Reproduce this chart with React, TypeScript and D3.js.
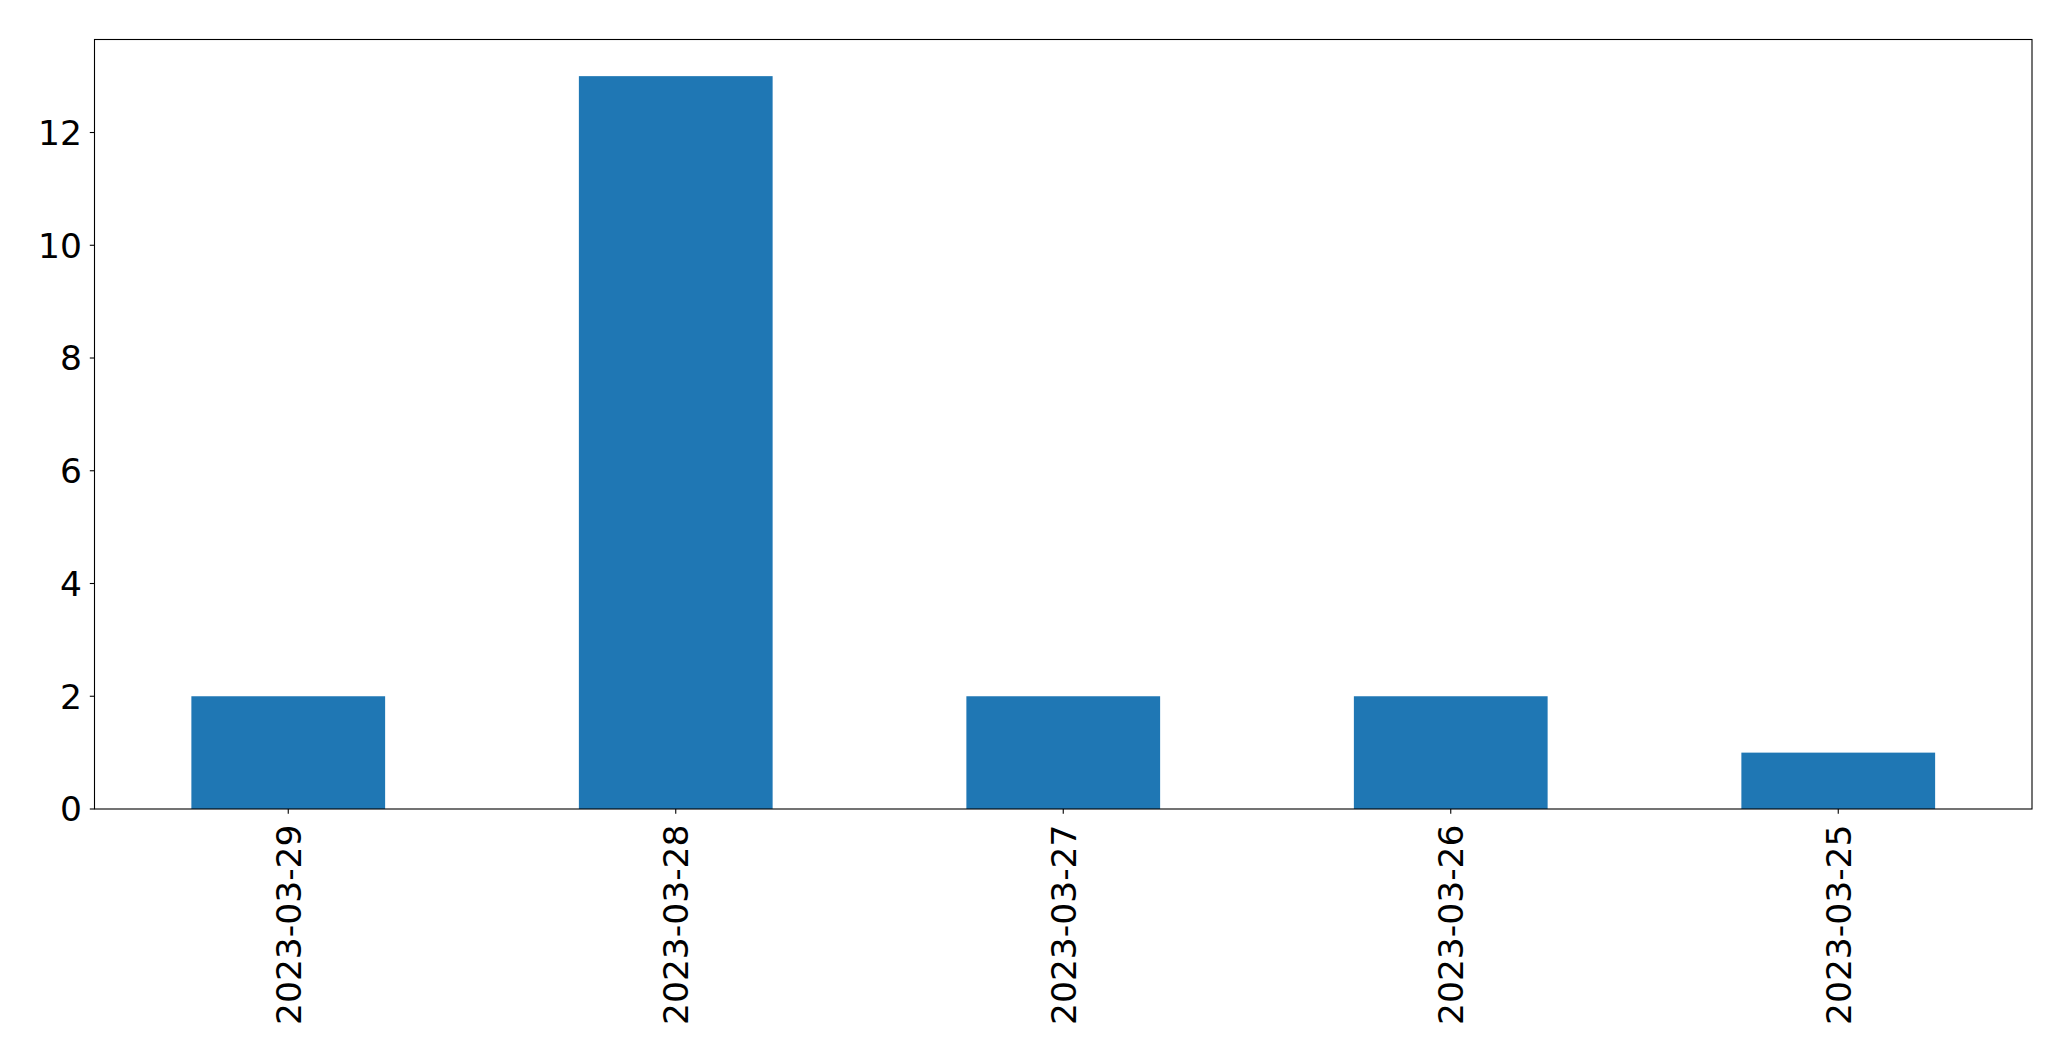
import React from "react";
import * as d3 from "d3";

const categories = ["2023-03-29", "2023-03-28", "2023-03-27", "2023-03-26", "2023-03-25"];
const values = [2, 13, 2, 2, 1];
const yTicks = [0, 2, 4, 6, 8, 10, 12];

const W = 2071;
const H = 1061;
const M = { left: 94.5, right: 2032, top: 39.5, bottom: 809 };
const FONT = "DejaVu Sans, sans-serif";
const FS = 34.5;

export default function App() {
  const x = d3
    .scaleBand<string>()
    .domain(categories)
    .range([M.left, M.right])
    .paddingInner(0.5)
    .paddingOuter(0.25);
  const yMax = d3.max(values)! * 1.05;
  const y = d3.scaleLinear().domain([0, yMax]).range([M.bottom, M.top]);

  return (
    <svg
      width={W}
      height={H}
      style={{ position: "absolute", left: 0, top: 0, background: "#fff" }}
    >
      <rect x={0} y={0} width={W} height={H} fill="#fff" />
      {categories.map((c, i) => (
        <rect
          key={c}
          x={x(c)}
          y={y(values[i])}
          width={x.bandwidth()}
          height={y(0) - y(values[i])}
          fill="#1f77b4"
        />
      ))}
      <rect
        x={M.left}
        y={M.top}
        width={M.right - M.left}
        height={M.bottom - M.top}
        fill="none"
        stroke="#000"
        strokeWidth={1.1}
      />
      {yTicks.map((t) => (
        <g key={t}>
          <line x1={M.left - 4.7} x2={M.left} y1={y(t)} y2={y(t)} stroke="#000" strokeWidth={1.1} />
          <text
            x={M.left - 12.5}
            y={y(t)}
            dy="0.36em"
            textAnchor="end"
            fontFamily={FONT}
            fontSize={FS}
            fill="#000"
          >
            {t}
          </text>
        </g>
      ))}
      {categories.map((c) => {
        const cx = x(c)! + x.bandwidth() / 2;
        return (
          <g key={c}>
            <line x1={cx} x2={cx} y1={M.bottom} y2={M.bottom + 4.7} stroke="#000" strokeWidth={1.1} />
            <text
              transform={`translate(${cx},${M.bottom + 15.5}) rotate(-90)`}
              dy="0.36em"
              textAnchor="end"
              fontFamily={FONT}
              fontSize={FS}
              fill="#000"
            >
              {c}
            </text>
          </g>
        );
      })}
    </svg>
  );
}
